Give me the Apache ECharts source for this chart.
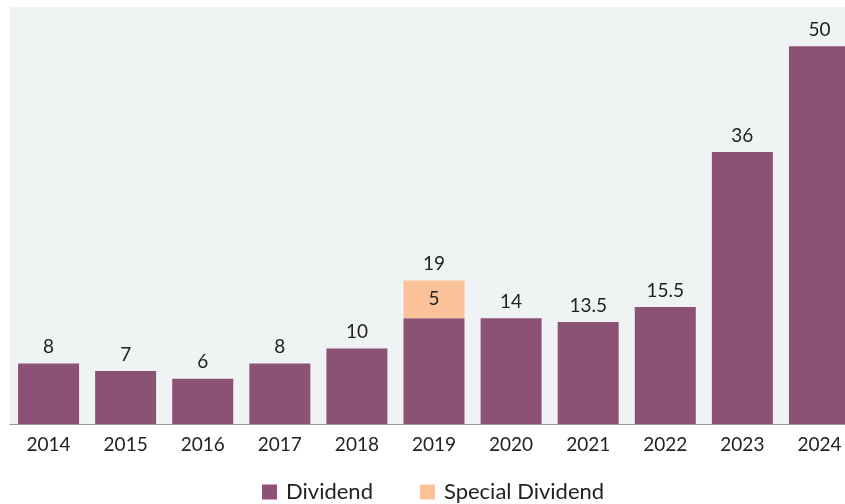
<!DOCTYPE html>
<html>
<head>
<meta charset="utf-8">
<script src="https://cdn.jsdelivr.net/npm/echarts@6/dist/echarts.min.js"></script>
<style>html,body{margin:0;padding:0;background:#fff;overflow:hidden;width:845px;height:504px}#c{width:858px;height:504px}</style>
</head>
<body>
<div id="c"></div>
<script>
const years = ['2014','2015','2016','2017','2018','2019','2020','2021','2022','2023','2024'];
const dividend = [8, 7, 6, 8, 10, 14, 14, 13.5, 15.5, 36, 50];
const special = [null, null, null, null, null, 5, null, null, null, null, null];

const totals = dividend.map((d, i) => special[i] ? 0 : null);
const FONT = 'Lato';
const chart = echarts.init(document.getElementById('c'));
chart.setOption({
  animation: false,
  textStyle: { fontFamily: FONT },
  grid: { left: 10, right: 0, top: 7, bottom: 80, show: true, backgroundColor: '#eff3f4', borderWidth: 0 },
  legend: {
    data: ['Dividend', 'Special Dividend'],
    left: 257, top: 476,
    itemWidth: 15, itemHeight: 15, itemGap: 47,
    icon: 'rect',
    textStyle: { fontSize: 22, color: '#222', fontFamily: FONT, padding: [0, 0, 0, 4] }
  },
  xAxis: {
    type: 'category', data: years,
    axisLine: { lineStyle: { color: '#999', width: 1 } },
    axisTick: { show: false },
    axisLabel: { fontSize: 19, color: '#222', margin: 11, fontFamily: FONT }
  },
  yAxis: { type: 'value', min: 0, max: 55.2, show: false, splitLine: { show: false } },
  series: [
    {
      name: 'Dividend', type: 'bar', stack: 's', barWidth: 61,
      itemStyle: { color: '#8b5275' },
      data: dividend.map((v, i) => ({ value: v, label: { show: !special[i] } })),
      label: { show: true, position: 'top', distance: 7, fontSize: 19, color: '#222', fontFamily: FONT }
    },
    {
      name: 'Special Dividend', type: 'bar', stack: 's', barWidth: 61,
      itemStyle: { color: '#fbc29a' },
      data: special,
      label: { show: true, position: 'inside', fontSize: 19, color: '#222', fontFamily: FONT }
    },
    {
      name: 'Total', type: 'bar', stack: 's', barWidth: 61,
      itemStyle: { color: 'transparent' },
      data: totals,
      label: {
        show: true, position: 'top', distance: 7, fontSize: 19, color: '#222', fontFamily: FONT,
        formatter: p => String(dividend[p.dataIndex] + special[p.dataIndex])
      }
    }
  ]
});
</script>
</body>
</html>
